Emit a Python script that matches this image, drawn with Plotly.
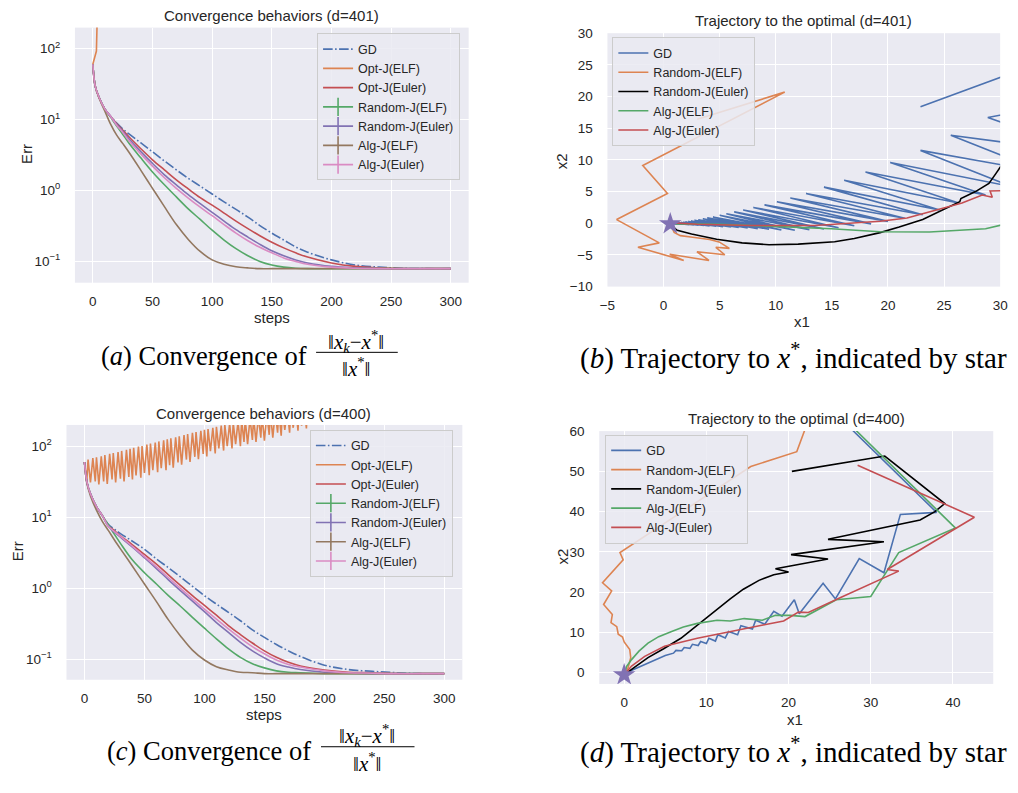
import plotly.graph_objects as go

W, H = 1018, 793
def px(x): return x / W
def py(y): return 1 - y / H

FONT = "Liberation Sans, Arial, sans-serif"
SERIF = "Liberation Serif, Times New Roman, serif"
TXT = "#262626"
BG = "#EAEAF2"
BLUE, ORANGE, GREEN, RED = "#4C72B0", "#DD8452", "#55A868", "#C44E52"
PURPLE, BROWN, PINK, BLACK = "#8172B3", "#937860", "#DA8BC3", "#000000"
LW = 1.6
DASHDOT = "9.6px,2.4px,1.6px,2.4px"

# ---------------- data : convergence (d=401) ----------------
steps = [0, 2, 5, 10, 15, 20, 25, 30, 40, 50, 60, 70, 80, 90, 100, 110, 120, 130,
         140, 150, 160, 170, 180, 200, 220, 240, 260, 280, 300]
a_gd = [60, 29.5, 20.9, 14.1, 11.0, 8.9, 7.4, 6.3, 4.7, 3.5, 2.6, 1.95, 1.48, 1.15, 0.89, 0.69,
        0.54, 0.42, 0.32, 0.25, 0.20, 0.16, 0.135, 0.105, 0.089, 0.083, 0.080, 0.079, 0.079]
a_opt_euler = [60, 29.5, 20.9, 14.1, 11.0, 8.7, 7.1, 5.75, 3.9, 2.7, 1.95, 1.41, 1.05, 0.79, 0.62,
               0.48, 0.37, 0.29, 0.23, 0.186, 0.155, 0.132, 0.115, 0.095, 0.085, 0.081, 0.079, 0.079, 0.079]
a_rand_elf = [60, 29.5, 20.9, 14.1, 10.7, 8.1, 6.2, 4.7, 2.9, 1.82, 1.20, 0.81, 0.55, 0.39, 0.275,
              0.20, 0.151, 0.120, 0.100, 0.089, 0.083, 0.080, 0.079, 0.079, 0.079, 0.079, 0.079, 0.079, 0.079]
a_rand_euler = [60, 29.5, 20.9, 14.1, 11.0, 8.5, 6.8, 5.4, 3.55, 2.4, 1.66, 1.20, 0.87, 0.65, 0.49,
                0.37, 0.28, 0.22, 0.174, 0.141, 0.120, 0.105, 0.095, 0.085, 0.081, 0.079, 0.079, 0.079, 0.079]
a_alg_elf = [60, 29.5, 20.4, 13.2, 8.5, 6.0, 4.6, 3.5, 1.95, 1.07, 0.59, 0.33, 0.204, 0.138, 0.105,
             0.091, 0.084, 0.081, 0.079, 0.079, 0.079, 0.079, 0.079, 0.079, 0.079, 0.079, 0.079, 0.079, 0.079]
a_alg_euler = [60, 29.5, 20.9, 14.1, 11.0, 8.3, 6.6, 5.1, 3.3, 2.2, 1.51, 1.07, 0.78, 0.58, 0.44,
               0.33, 0.25, 0.195, 0.158, 0.132, 0.112, 0.100, 0.091, 0.083, 0.080, 0.079, 0.079, 0.079, 0.079]
a_opt_elf_steps = [0, 1, 2, 3, 4, 5]
a_opt_elf = [60, 70, 80, 92, 450, 3000]

# ---------------- data : convergence (d=400) ----------------
c_gd = [60, 31.6, 21.4, 14.1, 10.5, 7.9, 6.8, 5.9, 4.6, 3.55, 2.6, 1.95, 1.45, 1.07, 0.79, 0.60,
        0.46, 0.35, 0.26, 0.204, 0.162, 0.132, 0.110, 0.083, 0.072, 0.068, 0.065, 0.063, 0.063]
c_opt_euler = [60, 31.6, 21.4, 14.1, 10.5, 7.6, 6.5, 5.5, 4.1, 3.0, 2.2, 1.55, 1.10, 0.79, 0.575,
               0.42, 0.30, 0.224, 0.170, 0.132, 0.107, 0.091, 0.081, 0.071, 0.066, 0.065, 0.063, 0.063, 0.063]
c_rand_elf = [60, 31.6, 21.4, 14.1, 10.5, 7.8, 5.75, 4.3, 2.5, 1.66, 1.15, 0.79, 0.56, 0.39, 0.275,
              0.195, 0.141, 0.107, 0.087, 0.076, 0.069, 0.066, 0.065, 0.063, 0.063, 0.063, 0.063, 0.063, 0.063]
c_rand_euler = [60, 31.6, 21.4, 14.1, 10.5, 7.4, 6.2, 5.25, 3.8, 2.7, 1.9, 1.32, 0.93, 0.66, 0.47,
                0.33, 0.24, 0.174, 0.132, 0.105, 0.087, 0.078, 0.072, 0.066, 0.064, 0.063, 0.063, 0.063, 0.063]
c_alg_elf = [60, 30.2, 20.0, 12.6, 8.7, 6.5, 4.8, 3.6, 2.05, 1.15, 0.65, 0.36, 0.214, 0.135, 0.098,
             0.079, 0.071, 0.066, 0.065, 0.063, 0.063, 0.063, 0.063, 0.063, 0.063, 0.063, 0.063, 0.063, 0.063]
c_alg_euler = [60, 31.6, 21.4, 14.1, 10.5, 7.4, 6.3, 5.4, 3.9, 2.8, 2.0, 1.41, 1.0, 0.71, 0.51,
               0.37, 0.27, 0.20, 0.151, 0.120, 0.098, 0.085, 0.078, 0.069, 0.065, 0.064, 0.063, 0.063, 0.063]
# Opt-J(ELF), d=400: oscillating; peak steps, peak values, trough values (trough two steps after peak)
c_opt_elf_peak_steps = [0, 3, 7, 10, 14, 17, 21, 24, 28, 31, 35, 38, 41, 45, 48, 52, 55, 59, 62, 66,
                        69, 72, 76, 79, 83, 86, 90, 93, 97, 100, 103, 107, 110, 114, 117, 121, 124,
                        128, 131, 134, 138, 141, 145, 148, 152, 155, 159, 162, 165, 169, 172, 176,
                        179, 183, 186, 190]
c_opt_elf_peaks = [60, 65, 68, 70, 72, 75, 78, 80, 83, 86, 89, 92, 95, 99, 101, 106, 109, 113, 117, 121,
                   125, 129, 134, 138, 144, 148, 154, 158, 165, 170, 175, 182, 188, 195, 201, 209, 215,
                   224, 231, 238, 247, 255, 265, 273, 284, 293, 305, 314, 324, 337, 347, 361, 372, 386,
                   398, 414]
c_opt_elf_troughs = [33, 31, 32, 29, 32, 29.5, 34, 31, 35, 32, 37, 34, 39, 36, 42, 39, 46, 43, 49, 46,
                     54, 50, 59, 55, 65, 60, 71, 66, 78, 72, 85, 79, 93, 87, 100, 93, 107, 100, 115,
                     107, 123, 115, 132, 120, 145, 132, 155, 141, 170, 155, 182, 166, 195, 178, 214, 200]

# ---------------- data : trajectories (d=401) ----------------
b_star = (0.6, -0.1)
b_gd_start_x1 = [22.9, 50.0, 45.0]
b_gd_start_x2 = [18.4, 36.0, 22.0]
b_gd_left_x1 = [28.9, 25.6, 22.9, 20.2, 18.0, 16.1, 14.3, 12.7, 11.3, 10.1, 9.0, 8.0, 7.1, 6.3, 5.6,
                5.0, 4.4, 3.9, 3.5, 3.1, 2.75, 2.45, 2.2, 1.95, 1.75, 1.55, 1.4, 1.25, 1.1, 1.0]
b_gd_left_x2 = [16.7, 13.9, 11.5, 9.6, 8.1, 6.8, 5.7, 4.7, 4.0, 3.4, 2.9, 2.5, 2.1, 1.8, 1.5,
                1.25, 1.0, 0.85, 0.7, 0.55, 0.45, 0.35, 0.28, 0.2, 0.15, 0.1, 0.07, 0.04, 0.02, 0.0]
b_gd_right_x1 = [38, 34, 31, 28.7, 26.3, 24.6, 23.1, 21.5, 20, 18.5, 17, 15.6, 14.3, 13, 11.7,
                 10.5, 9.4, 8.4, 7.5, 6.7, 6.0, 5.3, 4.7, 4.1, 3.6, 3.1, 2.7, 2.3, 2.0, 1.7]
b_gd_right_x2 = [11, 8, 5.8, 4.45, 3.2, 2.1, 1.35, 0.8, 0.3, -0.1, -0.4, -0.7, -0.9, -1.0, -1.1,
                 -1.05, -0.95, -0.85, -0.75, -0.68, -0.6, -0.53, -0.47, -0.41, -0.36, -0.31, -0.26,
                 -0.22, -0.18, -0.15]
b_rand_elf_x1 = [3.0, 10.8, -1.85, 0.35, -4.18, -0.38, -2.28, 1.8, 0.55, 4.05, 2.98, 5.46, 4.66, 5.87,
                 4.95, 4.1, 2.6, 1.5, 0.95, 0.7, 0.6]
b_rand_elf_x2 = [16.4, 20.7, 9.1, 4.7, 0.58, -3.1, -3.8, -5.86, -4.9, -5.87, -4.5, -4.97, -3.8, -3.96,
                 -2.95, -2.55, -2.2, -1.95, -1.45, -0.6, -0.1]
b_rand_euler_x1 = [31.5, 30.0, 29.6, 29.0, 27.8, 26.5, 26.4, 24.9, 23.1, 21.0, 19.3, 17.0, 15.25, 12.0,
                   9.4, 7.0, 4.73, 2.5, 1.22, 0.8, 0.6]
b_rand_euler_x2 = [11.5, 8.85, 7.8, 6.3, 5.0, 3.9, 3.4, 2.13, 0.6, -0.6, -1.48, -2.4, -2.93, -3.3,
                   -3.39, -3.1, -2.52, -1.7, -1.12, -0.5, -0.1]
b_alg_elf_x1 = [32.0, 30.0, 28.7, 23.7, 19.3, 14.95, 10.0, 5.0, 0.6]
b_alg_elf_x2 = [0.5, -0.35, -0.86, -1.38, -1.33, -0.86, -0.45, -0.15, -0.1]
b_alg_euler_x1 = [32.0, 29.1, 29.3, 28.4, 26.6, 24.9, 23.1, 21.7, 19.3, 16.4, 13.5, 7.65, 3.0, 0.93, 0.6]
b_alg_euler_x2 = [5.2, 5.1, 4.1, 4.45, 3.2, 2.4, 1.6, 0.84, 0.32, -0.04, -0.35, -0.35, -0.15, 0.06, -0.1]

# ---------------- data : trajectories (d=400) ----------------
d_star = (0.0, -0.6)
d_gd_x1 = [24.5, 38.0, 33.6, 31.6, 28.6, 25.7, 24.2, 21.3, 20.7, 19.2, 18.2, 17.1, 16.0, 15.6, 14.2,
           13.8, 12.7, 12.3, 11.4, 11.1, 10.3, 10.0, 9.3, 9.0, 8.3, 8.0, 7.3, 7.0, 6.3, 6.0, 5.0,
           4.0, 3.0, 2.0, 1.0, 0.0]
d_gd_x2 = [66.8, 39.8, 39.3, 24.8, 28.3, 18.3, 22.2, 14.6, 18.1, 14.0, 15.2, 12.0, 13.0, 10.8, 11.6,
           9.4, 10.2, 8.6, 9.4, 7.8, 8.5, 7.2, 7.7, 6.7, 7.0, 6.0, 6.2, 5.4, 5.5, 4.8, 4.2,
           3.3, 2.5, 1.6, 0.6, -0.6]
d_rand_elf_x1 = [23.0, 21.0, 15.4, 3.08, -0.51, -0.12, -2.63, -1.52, -2.5, -1.44, -1.6, -0.9, -0.72,
                 -0.2, 0.0, 0.68, 0.8, 0.48, 0.0]
d_rand_elf_x2 = [66.0, 54.9, 51.2, 34.5, 29.8, 28.0, 22.3, 20.3, 16.9, 14.4, 12.4, 11.4, 9.5,
                 8.8, 7.6, 5.7, 3.7, 1.2, -0.6]
d_rand_euler_x1 = [20.4, 31.7, 39.0, 37.8, 36.0, 24.8, 31.6, 20.3, 24.8, 18.4, 20.0, 18.2, 16.4, 14.5,
                   12.9, 11.5, 10.1, 8.5, 6.9, 4.8, 2.9, 1.2, 0.0]
d_rand_euler_x2 = [50.0, 53.8, 42.0, 40.0, 37.9, 33.1, 32.5, 29.3, 28.2, 25.8, 25.0, 24.3, 22.9, 20.7,
                   18.3, 16.0, 13.8, 11.2, 8.5, 5.9, 3.7, 1.2, -0.6]
d_alg_elf_x1 = [25.0, 40.3, 33.4, 30.0, 25.8, 22.0, 20.2, 18.4, 16.8, 14.6, 12.9, 11.3, 8.9, 7.2,
                5.7, 4.2, 2.9, 1.8, 0.9, 0.3, 0.0]
d_alg_elf_x2 = [66.6, 35.9, 29.8, 18.9, 18.1, 13.9, 14.2, 14.2, 13.0, 13.4, 12.8, 13.0, 12.2, 11.3,
                10.1, 8.9, 7.3, 5.3, 3.2, 1.5, -0.6]
d_alg_euler_x1 = [28.4, 42.6, 32.0, 33.4, 26.4, 25.8, 22.4, 21.2, 19.4, 16.9, 12.9, 8.9, 4.9, 2.5, 0.9, 0.0]
d_alg_euler_x2 = [51.5, 38.6, 25.6, 25.2, 18.7, 18.1, 14.9, 15.0, 12.8, 11.8, 10.1, 8.5, 6.5, 4.0, 1.6, -0.6]

fig = go.Figure()

def add_line(x, y, color, name, xa, ya, leg, show=True, dash=None, shape="linear", rank=None):
    fig.add_trace(go.Scatter(x=x, y=y, mode="lines", name=name, showlegend=show, legend=leg,
                             line=dict(color=color, width=LW, dash=dash, shape=shape),
                             xaxis=xa, yaxis=ya, hoverinfo="skip",
                             legendrank=rank if rank else 1000))

def add_plus_legend(color, name, xa, ya, leg, rank):
    fig.add_trace(go.Scatter(x=[None], y=[None], mode="lines+markers", name=name, legend=leg,
                             line=dict(color=color, width=LW),
                             marker=dict(symbol="line-ns", size=13, color=color,
                                         line=dict(color=color, width=LW)),
                             xaxis=xa, yaxis=ya, legendrank=rank))

# ---- convergence panels
for (xa, ya, leg, gd, oe_x, oe_y, oeu, re, reu, ae, aeu) in [
        ("x", "y", "legend", a_gd, a_opt_elf_steps, a_opt_elf, a_opt_euler, a_rand_elf,
         a_rand_euler, a_alg_elf, a_alg_euler),
        ("x3", "y3", "legend3", c_gd, None, None, c_opt_euler, c_rand_elf,
         c_rand_euler, c_alg_elf, c_alg_euler)]:
    add_line(steps, gd, BLUE, "GD", xa, ya, leg, dash=DASHDOT, shape="spline", rank=1)
    if oe_x is None:
        ox, oy = [], []
        for p, pk, tr in zip(c_opt_elf_peak_steps, c_opt_elf_peaks, c_opt_elf_troughs):
            ox += [p, p + 2]
            oy += [pk, tr]
        add_line(ox, oy, ORANGE, "Opt-J(ELF)", xa, ya, leg, rank=2)
    else:
        add_line(oe_x, oe_y, ORANGE, "Opt-J(ELF)", xa, ya, leg, rank=2)
    add_line(steps, oeu, RED, "Opt-J(Euler)", xa, ya, leg, shape="spline", rank=3)
    add_line(steps, re, GREEN, "Random-J(ELF)", xa, ya, leg, show=False, shape="spline")
    add_line(steps, reu, PURPLE, "Random-J(Euler)", xa, ya, leg, show=False, shape="spline")
    add_line(steps, ae, BROWN, "Alg-J(ELF)", xa, ya, leg, show=False, shape="spline")
    add_line(steps, aeu, PINK, "Alg-J(Euler)", xa, ya, leg, show=False, shape="spline")
    add_plus_legend(GREEN, "Random-J(ELF)", xa, ya, leg, 4)
    add_plus_legend(PURPLE, "Random-J(Euler)", xa, ya, leg, 5)
    add_plus_legend(BROWN, "Alg-J(ELF)", xa, ya, leg, 6)
    add_plus_legend(PINK, "Alg-J(Euler)", xa, ya, leg, 7)

# ---- trajectory d=401
gx, gy = list(b_gd_start_x1), list(b_gd_start_x2)
for l1, l2, r1, r2 in zip(b_gd_left_x1, b_gd_left_x2, b_gd_right_x1, b_gd_right_x2):
    gx += [l1, r1]
    gy += [l2, r2]
gx.append(b_star[0]); gy.append(b_star[1])
add_line(gx, gy, BLUE, "GD", "x2", "y2", "legend2", rank=1)
add_line(b_rand_elf_x1, b_rand_elf_x2, ORANGE, "Random-J(ELF)", "x2", "y2", "legend2", rank=2)
add_line(b_rand_euler_x1, b_rand_euler_x2, BLACK, "Random-J(Euler)", "x2", "y2", "legend2", rank=3)
add_line(b_alg_elf_x1, b_alg_elf_x2, GREEN, "Alg-J(ELF)", "x2", "y2", "legend2", rank=4)
add_line(b_alg_euler_x1, b_alg_euler_x2, RED, "Alg-J(Euler)", "x2", "y2", "legend2", rank=5)
fig.add_trace(go.Scatter(x=[b_star[0]], y=[b_star[1]], mode="markers", showlegend=False,
                         marker=dict(symbol="star", size=17, color=PURPLE),
                         xaxis="x2", yaxis="y2", hoverinfo="skip"))

# ---- trajectory d=400
add_line(d_gd_x1, d_gd_x2, BLUE, "GD", "x4", "y4", "legend4", rank=1)
add_line(d_rand_elf_x1, d_rand_elf_x2, ORANGE, "Random-J(ELF)", "x4", "y4", "legend4", rank=2)
add_line(d_rand_euler_x1, d_rand_euler_x2, BLACK, "Random-J(Euler)", "x4", "y4", "legend4", rank=3)
add_line(d_alg_elf_x1, d_alg_elf_x2, GREEN, "Alg-J(ELF)", "x4", "y4", "legend4", rank=4)
add_line(d_alg_euler_x1, d_alg_euler_x2, RED, "Alg-J(Euler)", "x4", "y4", "legend4", rank=5)
fig.add_trace(go.Scatter(x=[d_star[0]], y=[d_star[1]], mode="markers", showlegend=False,
                         marker=dict(symbol="star", size=17, color=PURPLE),
                         xaxis="x4", yaxis="y4", hoverinfo="skip"))

# ---------------- layout ----------------
tickfont = dict(family=FONT, size=13.5, color=TXT)
def axis(dom, rng, vals, texts, anchor, log=False, ticklen=6):
    d = dict(domain=dom, range=rng, tickvals=vals, ticktext=texts, anchor=anchor,
             showgrid=True, gridcolor="white", gridwidth=1.3, zeroline=False, showline=False,
             ticks="outside", ticklen=ticklen, tickcolor="rgba(0,0,0,0)", tickfont=tickfont,
             fixedrange=True)
    if log:
        d["type"] = "log"
    return d

def neg(v):
    return [str(t).replace("-", "\u2212") for t in v]

step_ticks = [0, 50, 100, 150, 200, 250, 300]
log_vals = [0.1, 1, 10, 100]
log_text = ["10<sup>\u22121</sup>", "10<sup>0</sup>", "10<sup>1</sup>", "10<sup>2</sup>"]
b_xt = [-5, 0, 5, 10, 15, 20, 25, 30]
b_yt = [-10, -5, 0, 5, 10, 15, 20, 25, 30]
d_xt = [0, 10, 20, 30, 40]
d_yt = [0, 10, 20, 30, 40, 50, 60]

legend_style = dict(bgcolor="rgba(234,234,242,0.85)", bordercolor="#CCCCCC", borderwidth=1,
                    font=dict(family=FONT, size=12.5, color=TXT), xanchor="left", yanchor="top",
                    itemwidth=30, tracegroupgap=0)

fig.update_layout(
    width=W, height=H, margin=dict(l=0, r=0, t=0, b=0),
    paper_bgcolor="white", plot_bgcolor=BG,
    xaxis=axis([px(68), px(468)], [-15, 315], step_ticks, [str(t) for t in step_ticks], "y"),
    yaxis=axis([py(281), py(21)], [-1.30, 2.294], log_vals, log_text, "x", log=True, ticklen=11),
    xaxis2=axis([px(609), px(1008)], [-5, 30], b_xt, neg(b_xt), "y2"),
    yaxis2=axis([py(285), py(26.7)], [-10, 30], b_yt, neg(b_yt), "x2", ticklen=11),
    xaxis3=axis([px(59.4), px(461.6)], [-15, 315], step_ticks, [str(t) for t in step_ticks], "y3"),
    yaxis3=axis([py(685.7), py(426)], [-1.286, 2.30], log_vals, log_text, "x3", log=True, ticklen=11),
    xaxis4=axis([px(600.7), px(1001)], [-3.03, 44.9], d_xt, neg(d_xt), "y4"),
    yaxis4=axis([py(690), py(432.3)], [-2.85, 60], d_yt, neg(d_yt), "x4", ticklen=11),
    legend=dict(x=px(314), y=py(27), **legend_style),
    legend2=dict(x=px(614), y=py(31), **legend_style),
    legend3=dict(x=px(306.7), y=py(431), **legend_style),
    legend4=dict(x=px(606.7), y=py(436), **legend_style),
    showlegend=True,
)

ann = []
def text(x, y, s, size=15, angle=0, family=FONT, xanchor="center", color=TXT):
    ann.append(dict(x=px(x), y=py(y), xref="paper", yref="paper", text=s, showarrow=False,
                    font=dict(family=family, size=size, color=color), textangle=angle,
                    xanchor=xanchor, yanchor="middle"))

# titles and axis labels
text(268, 9, "Convergence behaviors (d=401)")
text(808, 14, "Trajectory to the optimal (d=401)")
text(260, 414, "Convergence behaviors (d=400)")
text(801, 419, "Trajectory to the optimal (d=400)")
text(18, 150, "Err", angle=-90)
text(268, 316, "steps")
text(562, 157, "x2", angle=-90)
text(807, 321, "x1")
text(10, 555, "Err", angle=-90)
text(260, 721, "steps")
text(563, 560, "x2", angle=-90)
text(800, 726, "x1")

# captions
num = "\u2016<i>x<sub>k</sub></i>\u2212<i>x</i><sup>*</sup>\u2016"
den = "\u2016<i>x</i><sup>*</sup>\u2016"
text(306, 356, "(<i>a</i>) Convergence of", size=26.5, family=SERIF, xanchor="right", color="black")
text(354, 341, num, size=21, family=SERIF, color="black")
text(354, 367, den, size=21, family=SERIF, color="black")
text(579, 356, "(<i>b</i>) Trajectory to <i>x</i><sup>*</sup>, indicated by star", size=29,
     family=SERIF, xanchor="left", color="black")
text(310, 758, "(<i>c</i>) Convergence of", size=26.5, family=SERIF, xanchor="right", color="black")
text(365, 743, num, size=21, family=SERIF, color="black")
text(365, 770, den, size=21, family=SERIF, color="black")
text(579, 758, "(<i>d</i>) Trajectory to <i>x</i><sup>*</sup>, indicated by star", size=29,
     family=SERIF, xanchor="left", color="black")

fig.update_layout(annotations=ann, shapes=[
    dict(type="line", xref="paper", yref="paper", x0=px(313), x1=px(396), y0=py(352), y1=py(352),
         line=dict(color="black", width=1)),
    dict(type="line", xref="paper", yref="paper", x0=px(318), x1=px(413), y0=py(754), y1=py(754),
         line=dict(color="black", width=1)),
])

fig.write_html("out.html", config={"displayModeBar": False})
